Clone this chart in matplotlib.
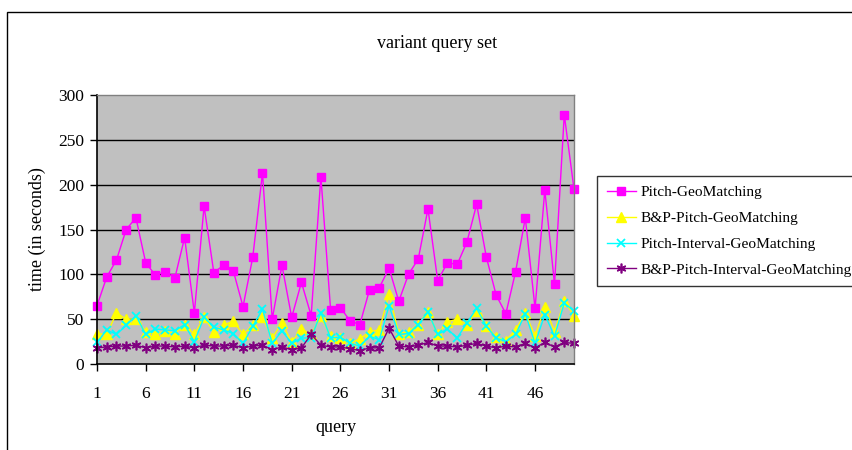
import matplotlib
matplotlib.use("Agg")
import matplotlib.pyplot as plt
from matplotlib.patches import Rectangle
import numpy as np

plt.rcParams['font.family'] = ['Liberation Serif', 'DejaVu Serif']

queries = list(range(1, 51))

pitch_geo = [65, 97, 116, 150, 163, 113, 99, 103, 96, 141,
             57, 176, 102, 110, 104, 64, 119, 213, 50, 110,
             52, 91, 54, 209, 60, 63, 48, 44, 83, 85,
             107, 70, 100, 117, 173, 93, 113, 111, 136, 178,
             119, 77, 56, 103, 163, 62, 194, 89, 278, 195]

bp_pitch_geo = [34, 33, 57, 50, 50, 36, 33, 37, 34, 44,
                33, 52, 36, 43, 48, 33, 43, 52, 29, 46,
                24, 39, 33, 53, 31, 29, 23, 28, 36, 38,
                78, 34, 36, 44, 58, 33, 47, 50, 44, 59,
                42, 30, 26, 38, 57, 31, 64, 36, 70, 54]

pitch_interval_geo = [24, 38, 33, 43, 54, 33, 39, 38, 37, 44,
                      25, 52, 41, 38, 34, 23, 42, 61, 23, 37,
                      23, 29, 29, 57, 29, 30, 23, 20, 31, 27,
                      65, 33, 34, 44, 58, 33, 39, 29, 46, 62,
                      42, 29, 25, 33, 56, 23, 55, 31, 68, 59]

bp_pitch_interval_geo = [18, 19, 20, 20, 21, 18, 20, 20, 19, 20,
                         18, 21, 20, 20, 21, 18, 20, 21, 16, 19,
                         16, 18, 33, 21, 19, 19, 17, 15, 18, 18,
                         40, 20, 19, 21, 24, 20, 20, 19, 21, 23,
                         20, 18, 20, 19, 23, 18, 24, 19, 24, 23]

series_names = ["Pitch-GeoMatching", "B&P-Pitch-GeoMatching",
                "Pitch-Interval-GeoMatching", "B&P-Pitch-Interval-GeoMatching"]
x_tick_labels = ["1", "6", "11", "16", "21", "26", "31", "36", "41", "46"]
y_ticks = [0, 50, 100, 150, 200, 250, 300]

W, H = 853, 450
fig = plt.figure(figsize=(W / 100, H / 100), dpi=100)
fig.patch.set_facecolor("white")

# outer chart frame
fig.patches.append(Rectangle((7 / W, 0 - 0.1), 1.2, 1 - 12 / H + 0.1,
                             transform=fig.transFigure, fill=False,
                             edgecolor="black", linewidth=1.0))

ax = fig.add_axes([97 / W, 1 - 364 / H, (574 - 97) / W, (364 - 95) / H])
ax.set_facecolor("#C0C0C0")

styles = [
    dict(color="#FF00FF", marker="s", markersize=5.5),
    dict(color="#FFFF00", marker="^", markersize=6.5),
    dict(color="#00FFFF", marker="x", markersize=6, markeredgewidth=1.3),
    dict(color="#800080", marker=(6, 2, 0), markersize=7, markeredgewidth=1.2),
]
data = [pitch_geo, bp_pitch_geo, pitch_interval_geo, bp_pitch_interval_geo]

for vals, name, st in zip(data, series_names, styles):
    ax.plot(queries, vals, linewidth=1.0, label=name, clip_on=False, **st)

ax.set_xlim(1, 50)
ax.set_ylim(0, 300)
ax.set_yticks(y_ticks)
ax.set_yticklabels([str(v) for v in y_ticks], fontsize=12.5)
ax.set_xticks([int(t) for t in x_tick_labels])
ax.set_xticklabels(x_tick_labels, fontsize=12.5)
ax.tick_params(axis="y", direction="out", length=5, width=1, pad=4, colors="black")
ax.tick_params(axis="x", direction="out", length=5, width=1, pad=11, colors="black")

for v in y_ticks[1:-1]:
    ax.axhline(v, color="black", linewidth=1.0, zorder=1)

for side in ["top", "right"]:
    ax.spines[side].set_color("#808080")
    ax.spines[side].set_linewidth(1.0)
for side in ["left", "bottom"]:
    ax.spines[side].set_color("black")
    ax.spines[side].set_linewidth(1.2)

ax.set_ylabel("time (in seconds)", fontsize=13)
ax.yaxis.set_label_coords(-0.107, 0.5)
ax.set_xlabel("query", fontsize=13)
ax.xaxis.set_label_coords(0.5, -0.205)

fig.text(437 / W, 1 - 44 / H, "variant query set", ha="center", va="center", fontsize=13)

leg = fig.legend(loc="upper left", bbox_to_anchor=(597 / W, 1 - 176 / H),
                 fontsize=11.1, frameon=True, fancybox=False, handlelength=1.9,
                 labelspacing=0.78, borderpad=0.62, handletextpad=0.3,
                 borderaxespad=0)
leg.get_frame().set_edgecolor("black")
leg.get_frame().set_linewidth(1.0)

fig.savefig("out.png", dpi=100)
